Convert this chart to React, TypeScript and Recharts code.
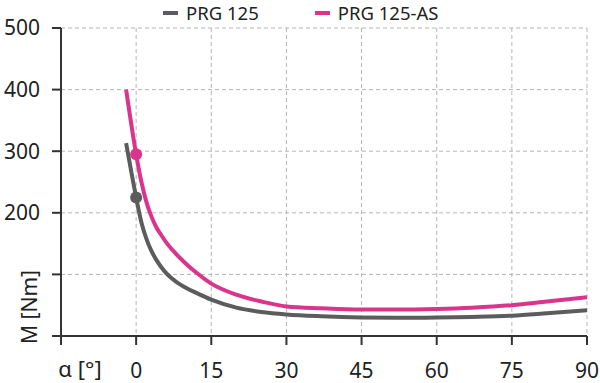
import React from 'react';
import { LineChart, Line, XAxis, YAxis, CartesianGrid } from 'recharts';

const angles = [-2, 0, 1, 2, 3, 4, 5, 6, 8, 10, 12, 15, 20, 25, 30, 37, 45, 52, 60, 67, 75, 82, 90];
const prg125 = [313, 225, 186, 159, 139, 124, 112, 102, 88, 78, 70, 59, 46, 39, 35, 32, 30, 29.5, 30, 31, 33, 37, 42];
const prg125as = [400, 295, 252, 219, 195, 177, 164, 152, 133, 117, 103, 85, 67, 56, 48, 45, 43, 43, 44, 46, 50, 56, 63];
const markedAngle = 0;

const xTicks = [-15, 0, 15, 30, 45, 60, 75, 90];
const yTicks = [0, 100, 200, 300, 400, 500];
const yLabelled = [200, 300, 400, 500];

const seriesNames = ['PRG 125', 'PRG 125-AS'];
const GRAY = '#5c5c5e';
const PINK = '#d9358c';
const FONT = '"Noto Sans", "Open Sans", sans-serif';

const data = angles.map((a, i) => ({ a, s1: prg125[i], s2: prg125as[i] }));

const makeDot = (color: string) => (props: any) => {
  const { cx, cy, payload, index } = props;
  if (payload && payload.a === markedAngle) {
    return <circle key={`d-${index}`} cx={cx} cy={cy} r={6} fill={color} stroke="none" />;
  }
  return <g key={`d-${index}`} />;
};

const LegendBox = () => (
  <div style={{ position: 'absolute', left: 163, top: 0, display: 'flex', fontFamily: FONT, fontSize: 18.5, lineHeight: 'normal', color: '#222', whiteSpace: 'nowrap' }}>
    {[GRAY, PINK].map((c, i) => (
      <div key={i} style={{ display: 'flex', alignItems: 'center', marginRight: i === 0 ? 56 : 0 }}>
        <div style={{ width: 15, height: 4, background: c, marginRight: 8 }} />
        <span>{seriesNames[i]}</span>
      </div>
    ))}
  </div>
);

const YLabel = () => (
  <text x={29} y={307} transform="rotate(-90 29 307)" textAnchor="middle" dominantBaseline="central"
    fontFamily={FONT} fontSize={21} fill="#222">M [Nm]</text>
);

const XLabel = () => (
  <text x={80} y={377} textAnchor="middle" fontFamily={FONT} fontSize={22} fill="#222">α [°]</text>
);

export default function App() {
  return (
    <div style={{ position: 'absolute', left: 0, top: 0, width: 600, height: 383, background: '#fff', overflow: 'hidden' }}>
      <LineChart width={600} height={383} data={data} margin={{ top: 28, right: 13, bottom: 0, left: 0 }}>
        <CartesianGrid stroke="#b5b5b5" strokeDasharray="4 3" strokeWidth={1} />
        <XAxis
          dataKey="a"
          type="number"
          domain={[-15, 90]}
          ticks={xTicks}
          allowDataOverflow
          height={47}
          stroke="#333"
          strokeWidth={2}
          tickSize={9}
          tickMargin={18}
          tick={{ fontFamily: FONT, fontSize: 21, fill: '#222' }}
          tickFormatter={(v: number) => (v === -15 ? '' : String(v))}
          label={<XLabel />}
        />
        <YAxis
          type="number"
          domain={[0, 500]}
          ticks={yTicks}
          width={61}
          stroke="#333"
          strokeWidth={2}
          tickSize={9}
          tickMargin={12}
          tick={{ fontFamily: FONT, fontSize: 21, fill: '#222' }}
          tickFormatter={(v: number) => (yLabelled.includes(v) ? String(v) : '')}
          label={<YLabel />}
        />
        <Line dataKey="s1" name={seriesNames[0]} type="monotone" stroke={GRAY} strokeWidth={4}
          dot={makeDot(GRAY)} activeDot={false} isAnimationActive={false} />
        <Line dataKey="s2" name={seriesNames[1]} type="monotone" stroke={PINK} strokeWidth={4}
          dot={makeDot(PINK)} activeDot={false} isAnimationActive={false} />
      </LineChart>
      <LegendBox />
    </div>
  );
}
